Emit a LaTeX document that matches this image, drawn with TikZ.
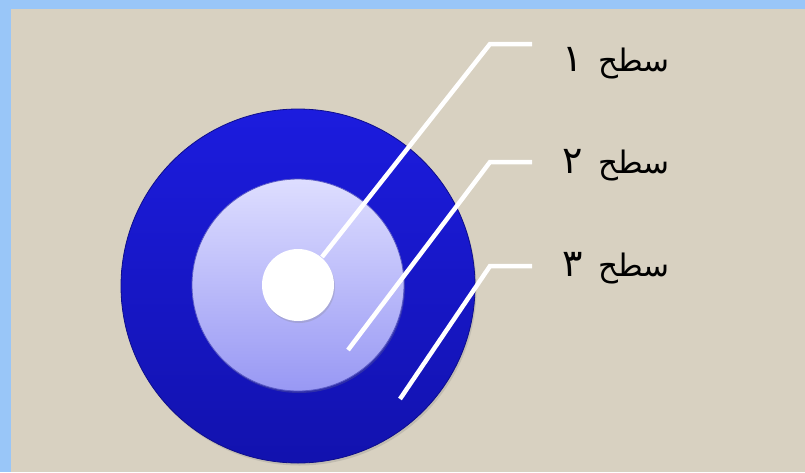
\documentclass[tikz,border=0pt]{standalone}
\usepackage{fontspec}
\newfontfamily\arabicfont[Script=Arabic]{DejaVu Sans}
\TeXXeTstate=1
\usetikzlibrary{shadows}
\definecolor{bgbeige}{HTML}{D8D1C1}
\definecolor{frameblue}{HTML}{99C6F8}
\definecolor{outertop}{HTML}{1C1CDE}
\definecolor{outerbot}{HTML}{1212AE}
\definecolor{midtop}{HTML}{DEDEFF}
\definecolor{midbot}{HTML}{9898F4}
\newcommand{\bigdig}[1]{{\fontsize{38}{40}\selectfont #1}}
\tikzset{
  ring/.style={circle, inner sep=0pt, draw=#1, line width=0.8pt},
  leader/.style={draw=white, line width=4.5pt},
  lvl/.style={anchor=east, font=\arabicfont\fontsize{31}{36}\selectfont, inner sep=0pt, text=black}
}
\begin{document}
\begin{tikzpicture}[x=1pt,y=1pt]
\fill[frameblue] (0,0) rectangle (805,-472);
\fill[bgbeige] (11,-9) rectangle (805,-472);
\useasboundingbox (0,0) rectangle (805,-472);
% circles
\node[ring=outerbot!80!black, minimum size=354pt, top color=outertop, bottom color=outerbot,
  drop shadow={opacity=0.25, shadow xshift=1.5pt, shadow yshift=-2.5pt}] (outer) at (298,-286) {};
\node[ring=outerbot!70!white, minimum size=212pt, top color=midtop, bottom color=midbot,
  drop shadow={opacity=0.25, shadow xshift=1pt, shadow yshift=-2pt}] (mid) at (298,-285) {};
% leader lines
\coordinate (s1) at (322,-257);
\coordinate (b1) at (490,-44);
\coordinate (e1) at (532,-44);
\coordinate (s2) at (348,-350);
\coordinate (b2) at (490,-162);
\coordinate (e2) at (532,-162);
\coordinate (s3) at (400,-399);
\coordinate (b3) at (490,-266);
\coordinate (e3) at (532,-266);
\draw[leader] (s1) -- (b1) -- (e1);
\draw[leader] (s2) -- (b2) -- (e2);
\draw[leader] (s3) -- (b3) -- (e3);
\node[circle, inner sep=0pt, minimum size=72pt, fill=white,
  drop shadow={opacity=0.25, shadow xshift=1pt, shadow yshift=-2pt}] (core) at (298,-285) {};
% labels
\node[lvl] (l1) at (670,-63) {\beginR سطح\hspace{0.5em}\bigdig{۱}\endR};
\node[lvl] (l2) at (670,-165) {\beginR سطح\hspace{0.5em}\bigdig{۲}\endR};
\node[lvl] (l3) at (670,-268) {\beginR سطح\hspace{0.5em}\bigdig{۳}\endR};
\end{tikzpicture}
\end{document}
